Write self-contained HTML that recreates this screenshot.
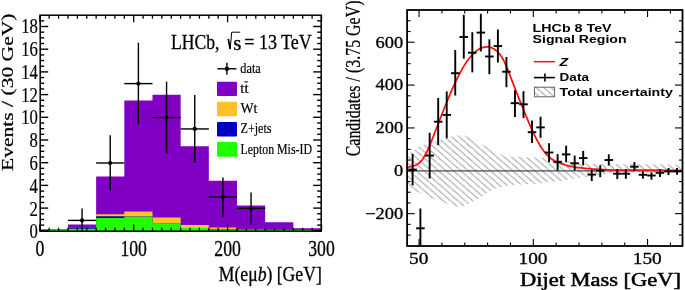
<!DOCTYPE html>
<html><head><meta charset="utf-8"><style>
html,body{margin:0;padding:0;background:#fff;}
body{width:685px;height:290px;overflow:hidden;}
svg{display:block;will-change:transform;}
</style></head><body>
<svg width="685" height="290" viewBox="0 0 685 290">
<rect width="685" height="290" fill="#fff"/>
<polygon points="39.80,231.20 39.80,229.60 67.97,229.60 67.97,224.50 96.14,224.50 96.14,176.60 124.31,176.60 124.31,100.50 152.48,100.50 152.48,94.70 180.65,94.70 180.65,146.20 208.82,146.20 208.82,180.80 236.99,180.80 236.99,205.50 265.16,205.50 265.16,222.20 293.33,222.20 293.33,228.20 321.50,228.20 321.50,231.20" fill="#8000c4"/>
<polygon points="39.80,231.20 39.80,229.60 67.97,229.60 67.97,227.70 96.14,227.70 96.14,214.30 124.31,214.30 124.31,211.50 152.48,211.50 152.48,217.50 180.65,217.50 180.65,225.00 208.82,225.00 208.82,227.50 236.99,227.50 236.99,229.30 265.16,229.30 265.16,229.70 293.33,229.70 293.33,229.90 321.50,229.90 321.50,231.20" fill="#ffc02a"/>
<polygon points="39.80,231.20 39.80,229.60 67.97,229.60 67.97,227.70 96.14,227.70 96.14,216.30 124.31,216.30 124.31,216.60 152.48,216.60 152.48,223.20 180.65,223.20 180.65,228.00 208.82,228.00 208.82,229.30 236.99,229.30 236.99,229.60 265.16,229.60 265.16,229.80 293.33,229.80 293.33,229.90 321.50,229.90 321.50,231.20" fill="#0000c0"/>
<polygon points="39.80,231.20 39.80,229.60 67.97,229.60 67.97,228.80 96.14,228.80 96.14,218.00 124.31,218.00 124.31,216.80 152.48,216.80 152.48,223.30 180.65,223.30 180.65,228.10 208.82,228.10 208.82,229.40 236.99,229.40 236.99,229.70 265.16,229.70 265.16,229.90 293.33,229.90 293.33,230.00 321.50,230.00 321.50,231.20" fill="#20ff00"/>
<line x1="40.20" y1="230.80" x2="48.20" y2="230.80" stroke="#000" stroke-width="1.4" stroke-linecap="butt"/>
<line x1="321.20" y1="230.80" x2="313.20" y2="230.80" stroke="#000" stroke-width="1.4" stroke-linecap="butt"/>
<line x1="40.20" y1="225.12" x2="44.20" y2="225.12" stroke="#000" stroke-width="1.4" stroke-linecap="butt"/>
<line x1="321.20" y1="225.12" x2="317.20" y2="225.12" stroke="#000" stroke-width="1.4" stroke-linecap="butt"/>
<line x1="40.20" y1="219.45" x2="44.20" y2="219.45" stroke="#000" stroke-width="1.4" stroke-linecap="butt"/>
<line x1="321.20" y1="219.45" x2="317.20" y2="219.45" stroke="#000" stroke-width="1.4" stroke-linecap="butt"/>
<line x1="40.20" y1="213.78" x2="44.20" y2="213.78" stroke="#000" stroke-width="1.4" stroke-linecap="butt"/>
<line x1="321.20" y1="213.78" x2="317.20" y2="213.78" stroke="#000" stroke-width="1.4" stroke-linecap="butt"/>
<line x1="40.20" y1="208.10" x2="48.20" y2="208.10" stroke="#000" stroke-width="1.4" stroke-linecap="butt"/>
<line x1="321.20" y1="208.10" x2="313.20" y2="208.10" stroke="#000" stroke-width="1.4" stroke-linecap="butt"/>
<line x1="40.20" y1="202.43" x2="44.20" y2="202.43" stroke="#000" stroke-width="1.4" stroke-linecap="butt"/>
<line x1="321.20" y1="202.43" x2="317.20" y2="202.43" stroke="#000" stroke-width="1.4" stroke-linecap="butt"/>
<line x1="40.20" y1="196.75" x2="44.20" y2="196.75" stroke="#000" stroke-width="1.4" stroke-linecap="butt"/>
<line x1="321.20" y1="196.75" x2="317.20" y2="196.75" stroke="#000" stroke-width="1.4" stroke-linecap="butt"/>
<line x1="40.20" y1="191.08" x2="44.20" y2="191.08" stroke="#000" stroke-width="1.4" stroke-linecap="butt"/>
<line x1="321.20" y1="191.08" x2="317.20" y2="191.08" stroke="#000" stroke-width="1.4" stroke-linecap="butt"/>
<line x1="40.20" y1="185.40" x2="48.20" y2="185.40" stroke="#000" stroke-width="1.4" stroke-linecap="butt"/>
<line x1="321.20" y1="185.40" x2="313.20" y2="185.40" stroke="#000" stroke-width="1.4" stroke-linecap="butt"/>
<line x1="40.20" y1="179.73" x2="44.20" y2="179.73" stroke="#000" stroke-width="1.4" stroke-linecap="butt"/>
<line x1="321.20" y1="179.73" x2="317.20" y2="179.73" stroke="#000" stroke-width="1.4" stroke-linecap="butt"/>
<line x1="40.20" y1="174.05" x2="44.20" y2="174.05" stroke="#000" stroke-width="1.4" stroke-linecap="butt"/>
<line x1="321.20" y1="174.05" x2="317.20" y2="174.05" stroke="#000" stroke-width="1.4" stroke-linecap="butt"/>
<line x1="40.20" y1="168.38" x2="44.20" y2="168.38" stroke="#000" stroke-width="1.4" stroke-linecap="butt"/>
<line x1="321.20" y1="168.38" x2="317.20" y2="168.38" stroke="#000" stroke-width="1.4" stroke-linecap="butt"/>
<line x1="40.20" y1="162.70" x2="48.20" y2="162.70" stroke="#000" stroke-width="1.4" stroke-linecap="butt"/>
<line x1="321.20" y1="162.70" x2="313.20" y2="162.70" stroke="#000" stroke-width="1.4" stroke-linecap="butt"/>
<line x1="40.20" y1="157.03" x2="44.20" y2="157.03" stroke="#000" stroke-width="1.4" stroke-linecap="butt"/>
<line x1="321.20" y1="157.03" x2="317.20" y2="157.03" stroke="#000" stroke-width="1.4" stroke-linecap="butt"/>
<line x1="40.20" y1="151.35" x2="44.20" y2="151.35" stroke="#000" stroke-width="1.4" stroke-linecap="butt"/>
<line x1="321.20" y1="151.35" x2="317.20" y2="151.35" stroke="#000" stroke-width="1.4" stroke-linecap="butt"/>
<line x1="40.20" y1="145.68" x2="44.20" y2="145.68" stroke="#000" stroke-width="1.4" stroke-linecap="butt"/>
<line x1="321.20" y1="145.68" x2="317.20" y2="145.68" stroke="#000" stroke-width="1.4" stroke-linecap="butt"/>
<line x1="40.20" y1="140.00" x2="48.20" y2="140.00" stroke="#000" stroke-width="1.4" stroke-linecap="butt"/>
<line x1="321.20" y1="140.00" x2="313.20" y2="140.00" stroke="#000" stroke-width="1.4" stroke-linecap="butt"/>
<line x1="40.20" y1="134.33" x2="44.20" y2="134.33" stroke="#000" stroke-width="1.4" stroke-linecap="butt"/>
<line x1="321.20" y1="134.33" x2="317.20" y2="134.33" stroke="#000" stroke-width="1.4" stroke-linecap="butt"/>
<line x1="40.20" y1="128.65" x2="44.20" y2="128.65" stroke="#000" stroke-width="1.4" stroke-linecap="butt"/>
<line x1="321.20" y1="128.65" x2="317.20" y2="128.65" stroke="#000" stroke-width="1.4" stroke-linecap="butt"/>
<line x1="40.20" y1="122.98" x2="44.20" y2="122.98" stroke="#000" stroke-width="1.4" stroke-linecap="butt"/>
<line x1="321.20" y1="122.98" x2="317.20" y2="122.98" stroke="#000" stroke-width="1.4" stroke-linecap="butt"/>
<line x1="40.20" y1="117.30" x2="48.20" y2="117.30" stroke="#000" stroke-width="1.4" stroke-linecap="butt"/>
<line x1="321.20" y1="117.30" x2="313.20" y2="117.30" stroke="#000" stroke-width="1.4" stroke-linecap="butt"/>
<line x1="40.20" y1="111.63" x2="44.20" y2="111.63" stroke="#000" stroke-width="1.4" stroke-linecap="butt"/>
<line x1="321.20" y1="111.63" x2="317.20" y2="111.63" stroke="#000" stroke-width="1.4" stroke-linecap="butt"/>
<line x1="40.20" y1="105.95" x2="44.20" y2="105.95" stroke="#000" stroke-width="1.4" stroke-linecap="butt"/>
<line x1="321.20" y1="105.95" x2="317.20" y2="105.95" stroke="#000" stroke-width="1.4" stroke-linecap="butt"/>
<line x1="40.20" y1="100.28" x2="44.20" y2="100.28" stroke="#000" stroke-width="1.4" stroke-linecap="butt"/>
<line x1="321.20" y1="100.28" x2="317.20" y2="100.28" stroke="#000" stroke-width="1.4" stroke-linecap="butt"/>
<line x1="40.20" y1="94.60" x2="48.20" y2="94.60" stroke="#000" stroke-width="1.4" stroke-linecap="butt"/>
<line x1="321.20" y1="94.60" x2="313.20" y2="94.60" stroke="#000" stroke-width="1.4" stroke-linecap="butt"/>
<line x1="40.20" y1="88.93" x2="44.20" y2="88.93" stroke="#000" stroke-width="1.4" stroke-linecap="butt"/>
<line x1="321.20" y1="88.93" x2="317.20" y2="88.93" stroke="#000" stroke-width="1.4" stroke-linecap="butt"/>
<line x1="40.20" y1="83.25" x2="44.20" y2="83.25" stroke="#000" stroke-width="1.4" stroke-linecap="butt"/>
<line x1="321.20" y1="83.25" x2="317.20" y2="83.25" stroke="#000" stroke-width="1.4" stroke-linecap="butt"/>
<line x1="40.20" y1="77.58" x2="44.20" y2="77.58" stroke="#000" stroke-width="1.4" stroke-linecap="butt"/>
<line x1="321.20" y1="77.58" x2="317.20" y2="77.58" stroke="#000" stroke-width="1.4" stroke-linecap="butt"/>
<line x1="40.20" y1="71.90" x2="48.20" y2="71.90" stroke="#000" stroke-width="1.4" stroke-linecap="butt"/>
<line x1="321.20" y1="71.90" x2="313.20" y2="71.90" stroke="#000" stroke-width="1.4" stroke-linecap="butt"/>
<line x1="40.20" y1="66.23" x2="44.20" y2="66.23" stroke="#000" stroke-width="1.4" stroke-linecap="butt"/>
<line x1="321.20" y1="66.23" x2="317.20" y2="66.23" stroke="#000" stroke-width="1.4" stroke-linecap="butt"/>
<line x1="40.20" y1="60.55" x2="44.20" y2="60.55" stroke="#000" stroke-width="1.4" stroke-linecap="butt"/>
<line x1="321.20" y1="60.55" x2="317.20" y2="60.55" stroke="#000" stroke-width="1.4" stroke-linecap="butt"/>
<line x1="40.20" y1="54.88" x2="44.20" y2="54.88" stroke="#000" stroke-width="1.4" stroke-linecap="butt"/>
<line x1="321.20" y1="54.88" x2="317.20" y2="54.88" stroke="#000" stroke-width="1.4" stroke-linecap="butt"/>
<line x1="40.20" y1="49.20" x2="48.20" y2="49.20" stroke="#000" stroke-width="1.4" stroke-linecap="butt"/>
<line x1="321.20" y1="49.20" x2="313.20" y2="49.20" stroke="#000" stroke-width="1.4" stroke-linecap="butt"/>
<line x1="40.20" y1="43.53" x2="44.20" y2="43.53" stroke="#000" stroke-width="1.4" stroke-linecap="butt"/>
<line x1="321.20" y1="43.53" x2="317.20" y2="43.53" stroke="#000" stroke-width="1.4" stroke-linecap="butt"/>
<line x1="40.20" y1="37.85" x2="44.20" y2="37.85" stroke="#000" stroke-width="1.4" stroke-linecap="butt"/>
<line x1="321.20" y1="37.85" x2="317.20" y2="37.85" stroke="#000" stroke-width="1.4" stroke-linecap="butt"/>
<line x1="40.20" y1="32.18" x2="44.20" y2="32.18" stroke="#000" stroke-width="1.4" stroke-linecap="butt"/>
<line x1="321.20" y1="32.18" x2="317.20" y2="32.18" stroke="#000" stroke-width="1.4" stroke-linecap="butt"/>
<line x1="40.20" y1="26.50" x2="48.20" y2="26.50" stroke="#000" stroke-width="1.4" stroke-linecap="butt"/>
<line x1="321.20" y1="26.50" x2="313.20" y2="26.50" stroke="#000" stroke-width="1.4" stroke-linecap="butt"/>
<line x1="40.20" y1="20.83" x2="44.20" y2="20.83" stroke="#000" stroke-width="1.4" stroke-linecap="butt"/>
<line x1="321.20" y1="20.83" x2="317.20" y2="20.83" stroke="#000" stroke-width="1.4" stroke-linecap="butt"/>
<line x1="39.80" y1="231.20" x2="39.80" y2="224.20" stroke="#000" stroke-width="1.3" stroke-linecap="butt"/>
<line x1="39.80" y1="15.20" x2="39.80" y2="22.20" stroke="#000" stroke-width="1.3" stroke-linecap="butt"/>
<line x1="49.19" y1="231.20" x2="49.19" y2="227.70" stroke="#000" stroke-width="1.3" stroke-linecap="butt"/>
<line x1="49.19" y1="15.20" x2="49.19" y2="18.70" stroke="#000" stroke-width="1.3" stroke-linecap="butt"/>
<line x1="58.58" y1="231.20" x2="58.58" y2="227.70" stroke="#000" stroke-width="1.3" stroke-linecap="butt"/>
<line x1="58.58" y1="15.20" x2="58.58" y2="18.70" stroke="#000" stroke-width="1.3" stroke-linecap="butt"/>
<line x1="67.97" y1="231.20" x2="67.97" y2="227.70" stroke="#000" stroke-width="1.3" stroke-linecap="butt"/>
<line x1="67.97" y1="15.20" x2="67.97" y2="18.70" stroke="#000" stroke-width="1.3" stroke-linecap="butt"/>
<line x1="77.36" y1="231.20" x2="77.36" y2="227.70" stroke="#000" stroke-width="1.3" stroke-linecap="butt"/>
<line x1="77.36" y1="15.20" x2="77.36" y2="18.70" stroke="#000" stroke-width="1.3" stroke-linecap="butt"/>
<line x1="86.75" y1="231.20" x2="86.75" y2="227.70" stroke="#000" stroke-width="1.3" stroke-linecap="butt"/>
<line x1="86.75" y1="15.20" x2="86.75" y2="18.70" stroke="#000" stroke-width="1.3" stroke-linecap="butt"/>
<line x1="96.14" y1="231.20" x2="96.14" y2="227.70" stroke="#000" stroke-width="1.3" stroke-linecap="butt"/>
<line x1="96.14" y1="15.20" x2="96.14" y2="18.70" stroke="#000" stroke-width="1.3" stroke-linecap="butt"/>
<line x1="105.53" y1="231.20" x2="105.53" y2="227.70" stroke="#000" stroke-width="1.3" stroke-linecap="butt"/>
<line x1="105.53" y1="15.20" x2="105.53" y2="18.70" stroke="#000" stroke-width="1.3" stroke-linecap="butt"/>
<line x1="114.92" y1="231.20" x2="114.92" y2="227.70" stroke="#000" stroke-width="1.3" stroke-linecap="butt"/>
<line x1="114.92" y1="15.20" x2="114.92" y2="18.70" stroke="#000" stroke-width="1.3" stroke-linecap="butt"/>
<line x1="124.31" y1="231.20" x2="124.31" y2="227.70" stroke="#000" stroke-width="1.3" stroke-linecap="butt"/>
<line x1="124.31" y1="15.20" x2="124.31" y2="18.70" stroke="#000" stroke-width="1.3" stroke-linecap="butt"/>
<line x1="133.70" y1="231.20" x2="133.70" y2="224.20" stroke="#000" stroke-width="1.3" stroke-linecap="butt"/>
<line x1="133.70" y1="15.20" x2="133.70" y2="22.20" stroke="#000" stroke-width="1.3" stroke-linecap="butt"/>
<line x1="143.09" y1="231.20" x2="143.09" y2="227.70" stroke="#000" stroke-width="1.3" stroke-linecap="butt"/>
<line x1="143.09" y1="15.20" x2="143.09" y2="18.70" stroke="#000" stroke-width="1.3" stroke-linecap="butt"/>
<line x1="152.48" y1="231.20" x2="152.48" y2="227.70" stroke="#000" stroke-width="1.3" stroke-linecap="butt"/>
<line x1="152.48" y1="15.20" x2="152.48" y2="18.70" stroke="#000" stroke-width="1.3" stroke-linecap="butt"/>
<line x1="161.87" y1="231.20" x2="161.87" y2="227.70" stroke="#000" stroke-width="1.3" stroke-linecap="butt"/>
<line x1="161.87" y1="15.20" x2="161.87" y2="18.70" stroke="#000" stroke-width="1.3" stroke-linecap="butt"/>
<line x1="171.26" y1="231.20" x2="171.26" y2="227.70" stroke="#000" stroke-width="1.3" stroke-linecap="butt"/>
<line x1="171.26" y1="15.20" x2="171.26" y2="18.70" stroke="#000" stroke-width="1.3" stroke-linecap="butt"/>
<line x1="180.65" y1="231.20" x2="180.65" y2="227.70" stroke="#000" stroke-width="1.3" stroke-linecap="butt"/>
<line x1="180.65" y1="15.20" x2="180.65" y2="18.70" stroke="#000" stroke-width="1.3" stroke-linecap="butt"/>
<line x1="190.04" y1="231.20" x2="190.04" y2="227.70" stroke="#000" stroke-width="1.3" stroke-linecap="butt"/>
<line x1="190.04" y1="15.20" x2="190.04" y2="18.70" stroke="#000" stroke-width="1.3" stroke-linecap="butt"/>
<line x1="199.43" y1="231.20" x2="199.43" y2="227.70" stroke="#000" stroke-width="1.3" stroke-linecap="butt"/>
<line x1="199.43" y1="15.20" x2="199.43" y2="18.70" stroke="#000" stroke-width="1.3" stroke-linecap="butt"/>
<line x1="208.82" y1="231.20" x2="208.82" y2="227.70" stroke="#000" stroke-width="1.3" stroke-linecap="butt"/>
<line x1="208.82" y1="15.20" x2="208.82" y2="18.70" stroke="#000" stroke-width="1.3" stroke-linecap="butt"/>
<line x1="218.21" y1="231.20" x2="218.21" y2="227.70" stroke="#000" stroke-width="1.3" stroke-linecap="butt"/>
<line x1="218.21" y1="15.20" x2="218.21" y2="18.70" stroke="#000" stroke-width="1.3" stroke-linecap="butt"/>
<line x1="227.60" y1="231.20" x2="227.60" y2="224.20" stroke="#000" stroke-width="1.3" stroke-linecap="butt"/>
<line x1="227.60" y1="15.20" x2="227.60" y2="22.20" stroke="#000" stroke-width="1.3" stroke-linecap="butt"/>
<line x1="236.99" y1="231.20" x2="236.99" y2="227.70" stroke="#000" stroke-width="1.3" stroke-linecap="butt"/>
<line x1="236.99" y1="15.20" x2="236.99" y2="18.70" stroke="#000" stroke-width="1.3" stroke-linecap="butt"/>
<line x1="246.38" y1="231.20" x2="246.38" y2="227.70" stroke="#000" stroke-width="1.3" stroke-linecap="butt"/>
<line x1="246.38" y1="15.20" x2="246.38" y2="18.70" stroke="#000" stroke-width="1.3" stroke-linecap="butt"/>
<line x1="255.77" y1="231.20" x2="255.77" y2="227.70" stroke="#000" stroke-width="1.3" stroke-linecap="butt"/>
<line x1="255.77" y1="15.20" x2="255.77" y2="18.70" stroke="#000" stroke-width="1.3" stroke-linecap="butt"/>
<line x1="265.16" y1="231.20" x2="265.16" y2="227.70" stroke="#000" stroke-width="1.3" stroke-linecap="butt"/>
<line x1="265.16" y1="15.20" x2="265.16" y2="18.70" stroke="#000" stroke-width="1.3" stroke-linecap="butt"/>
<line x1="274.55" y1="231.20" x2="274.55" y2="227.70" stroke="#000" stroke-width="1.3" stroke-linecap="butt"/>
<line x1="274.55" y1="15.20" x2="274.55" y2="18.70" stroke="#000" stroke-width="1.3" stroke-linecap="butt"/>
<line x1="283.94" y1="231.20" x2="283.94" y2="227.70" stroke="#000" stroke-width="1.3" stroke-linecap="butt"/>
<line x1="283.94" y1="15.20" x2="283.94" y2="18.70" stroke="#000" stroke-width="1.3" stroke-linecap="butt"/>
<line x1="293.33" y1="231.20" x2="293.33" y2="227.70" stroke="#000" stroke-width="1.3" stroke-linecap="butt"/>
<line x1="293.33" y1="15.20" x2="293.33" y2="18.70" stroke="#000" stroke-width="1.3" stroke-linecap="butt"/>
<line x1="302.72" y1="231.20" x2="302.72" y2="227.70" stroke="#000" stroke-width="1.3" stroke-linecap="butt"/>
<line x1="302.72" y1="15.20" x2="302.72" y2="18.70" stroke="#000" stroke-width="1.3" stroke-linecap="butt"/>
<line x1="312.11" y1="231.20" x2="312.11" y2="227.70" stroke="#000" stroke-width="1.3" stroke-linecap="butt"/>
<line x1="312.11" y1="15.20" x2="312.11" y2="18.70" stroke="#000" stroke-width="1.3" stroke-linecap="butt"/>
<line x1="321.50" y1="231.20" x2="321.50" y2="224.20" stroke="#000" stroke-width="1.3" stroke-linecap="butt"/>
<line x1="321.50" y1="15.20" x2="321.50" y2="22.20" stroke="#000" stroke-width="1.3" stroke-linecap="butt"/>
<rect x="40.2" y="15.2" width="281.0" height="216.0" fill="none" stroke="#000" stroke-width="1.5"/>
<line x1="67.97" y1="220.40" x2="96.14" y2="220.40" stroke="#000" stroke-width="1.4" stroke-linecap="butt"/>
<line x1="82.05" y1="208.60" x2="82.05" y2="231.20" stroke="#000" stroke-width="1.4" stroke-linecap="butt"/>
<circle cx="82.05" cy="220.40" r="2.1" fill="#000"/>
<line x1="96.14" y1="163.00" x2="124.31" y2="163.00" stroke="#000" stroke-width="1.4" stroke-linecap="butt"/>
<line x1="110.22" y1="135.20" x2="110.22" y2="190.80" stroke="#000" stroke-width="1.4" stroke-linecap="butt"/>
<circle cx="110.22" cy="163.00" r="2.1" fill="#000"/>
<line x1="124.31" y1="83.60" x2="152.48" y2="83.60" stroke="#000" stroke-width="1.4" stroke-linecap="butt"/>
<line x1="138.39" y1="42.70" x2="138.39" y2="124.40" stroke="#000" stroke-width="1.4" stroke-linecap="butt"/>
<circle cx="138.39" cy="83.60" r="2.1" fill="#000"/>
<line x1="152.48" y1="117.60" x2="180.65" y2="117.60" stroke="#000" stroke-width="1.4" stroke-linecap="butt"/>
<line x1="166.56" y1="81.70" x2="166.56" y2="153.50" stroke="#000" stroke-width="1.4" stroke-linecap="butt"/>
<circle cx="166.56" cy="117.60" r="2.1" fill="#000"/>
<line x1="180.65" y1="128.95" x2="208.82" y2="128.95" stroke="#000" stroke-width="1.4" stroke-linecap="butt"/>
<line x1="194.73" y1="94.90" x2="194.73" y2="163.00" stroke="#000" stroke-width="1.4" stroke-linecap="butt"/>
<circle cx="194.73" cy="128.95" r="2.1" fill="#000"/>
<line x1="208.82" y1="197.05" x2="236.99" y2="197.05" stroke="#000" stroke-width="1.4" stroke-linecap="butt"/>
<line x1="222.91" y1="177.40" x2="222.91" y2="216.70" stroke="#000" stroke-width="1.4" stroke-linecap="butt"/>
<circle cx="222.91" cy="197.05" r="2.1" fill="#000"/>
<line x1="236.99" y1="208.40" x2="265.16" y2="208.40" stroke="#000" stroke-width="1.4" stroke-linecap="butt"/>
<line x1="251.07" y1="192.40" x2="251.07" y2="224.40" stroke="#000" stroke-width="1.4" stroke-linecap="butt"/>
<circle cx="251.07" cy="208.40" r="2.1" fill="#000"/>
<line x1="217.40" y1="68.80" x2="236.40" y2="68.80" stroke="#000" stroke-width="1.4" stroke-linecap="butt"/>
<line x1="226.90" y1="62.80" x2="226.90" y2="74.80" stroke="#000" stroke-width="1.4" stroke-linecap="butt"/>
<circle cx="226.9" cy="68.8" r="2.2" fill="#000"/>
<rect x="217" y="81.7" width="20" height="14.3" rx="1" fill="#8000c4"/>
<rect x="217" y="101.8" width="20" height="14.5" rx="1" fill="#ffc02a"/>
<rect x="217" y="122.0" width="20" height="14.5" rx="1" fill="#0000c0"/>
<rect x="217" y="142.1" width="20" height="14.6" rx="1" fill="#20ff00"/>
<text transform="translate(240.30,72.80)" font-family='"Liberation Serif", serif' font-size="14.6" text-anchor="start" font-weight="normal" font-style="normal" fill="#000" textLength="20.50" lengthAdjust="spacingAndGlyphs" stroke="#000" stroke-width="0.2">data</text>
<text transform="translate(240.30,93.30)" font-family='"Liberation Serif", serif' font-size="14.6" text-anchor="start" font-weight="normal" font-style="normal" fill="#000" textLength="8.30" lengthAdjust="spacingAndGlyphs" stroke="#000" stroke-width="0.2">tt</text>
<line x1="244.40" y1="81.90" x2="248.00" y2="81.90" stroke="#000" stroke-width="1.0" stroke-linecap="butt"/>
<text transform="translate(240.50,113.10)" font-family='"Liberation Serif", serif' font-size="14.6" text-anchor="start" font-weight="normal" font-style="normal" fill="#000" textLength="17.00" lengthAdjust="spacingAndGlyphs" stroke="#000" stroke-width="0.2">Wt</text>
<text transform="translate(240.50,133.30)" font-family='"Liberation Serif", serif' font-size="14.6" text-anchor="start" font-weight="normal" font-style="normal" fill="#000" textLength="31.00" lengthAdjust="spacingAndGlyphs" stroke="#000" stroke-width="0.2">Z+jets</text>
<text transform="translate(240.50,153.70)" font-family='"Liberation Serif", serif' font-size="14.6" text-anchor="start" font-weight="normal" font-style="normal" fill="#000" textLength="71.50" lengthAdjust="spacingAndGlyphs" stroke="#000" stroke-width="0.2">Lepton Mis-ID</text>
<text transform="translate(171.00,48.90)" font-family='"Liberation Serif", serif' font-size="21.1" text-anchor="start" font-weight="normal" font-style="normal" fill="#000" textLength="48.50" lengthAdjust="spacingAndGlyphs" stroke="#000" stroke-width="0.3">LHCb,</text>
<path d="M228.3,38.8 L230.2,49" stroke="#000" stroke-width="1.7" fill="none"/>
<path d="M230.2,49 L231.7,32.2 L240.2,32.2" stroke="#000" stroke-width="1.0" fill="none"/>
<text transform="translate(233.30,49.70)" font-family='"Liberation Serif", serif' font-size="21.1" text-anchor="start" font-weight="normal" font-style="normal" fill="#000" stroke="#000" stroke-width="0.3">s</text>
<text transform="translate(244.30,48.90)" font-family='"Liberation Serif", serif' font-size="21.1" text-anchor="start" font-weight="normal" font-style="normal" fill="#000" textLength="67.50" lengthAdjust="spacingAndGlyphs" stroke="#000" stroke-width="0.3">= 13 TeV</text>
<text transform="translate(37.90,238.30) scale(0.7600,1.0000)" font-family='"Liberation Serif", serif' font-size="22" text-anchor="end" font-weight="normal" font-style="normal" fill="#000" stroke="#000" stroke-width="0.2">0</text>
<text transform="translate(37.90,215.51) scale(0.7600,1.0000)" font-family='"Liberation Serif", serif' font-size="22" text-anchor="end" font-weight="normal" font-style="normal" fill="#000" stroke="#000" stroke-width="0.2">2</text>
<text transform="translate(37.90,192.72) scale(0.7600,1.0000)" font-family='"Liberation Serif", serif' font-size="22" text-anchor="end" font-weight="normal" font-style="normal" fill="#000" stroke="#000" stroke-width="0.2">4</text>
<text transform="translate(37.90,169.94) scale(0.7600,1.0000)" font-family='"Liberation Serif", serif' font-size="22" text-anchor="end" font-weight="normal" font-style="normal" fill="#000" stroke="#000" stroke-width="0.2">6</text>
<text transform="translate(37.90,147.15) scale(0.7600,1.0000)" font-family='"Liberation Serif", serif' font-size="22" text-anchor="end" font-weight="normal" font-style="normal" fill="#000" stroke="#000" stroke-width="0.2">8</text>
<text transform="translate(37.90,124.36) scale(0.7600,1.0000)" font-family='"Liberation Serif", serif' font-size="22" text-anchor="end" font-weight="normal" font-style="normal" fill="#000" stroke="#000" stroke-width="0.2">10</text>
<text transform="translate(37.90,101.57) scale(0.7600,1.0000)" font-family='"Liberation Serif", serif' font-size="22" text-anchor="end" font-weight="normal" font-style="normal" fill="#000" stroke="#000" stroke-width="0.2">12</text>
<text transform="translate(37.90,78.78) scale(0.7600,1.0000)" font-family='"Liberation Serif", serif' font-size="22" text-anchor="end" font-weight="normal" font-style="normal" fill="#000" stroke="#000" stroke-width="0.2">14</text>
<text transform="translate(37.90,56.00) scale(0.7600,1.0000)" font-family='"Liberation Serif", serif' font-size="22" text-anchor="end" font-weight="normal" font-style="normal" fill="#000" stroke="#000" stroke-width="0.2">16</text>
<text transform="translate(37.90,33.21) scale(0.7600,1.0000)" font-family='"Liberation Serif", serif' font-size="22" text-anchor="end" font-weight="normal" font-style="normal" fill="#000" stroke="#000" stroke-width="0.2">18</text>
<text transform="translate(39.80,255.80) scale(0.7700,1.0000)" font-family='"Liberation Serif", serif' font-size="23" text-anchor="middle" font-weight="normal" font-style="normal" fill="#000" stroke="#000" stroke-width="0.3">0</text>
<text transform="translate(133.70,255.80) scale(0.7700,1.0000)" font-family='"Liberation Serif", serif' font-size="23" text-anchor="middle" font-weight="normal" font-style="normal" fill="#000" stroke="#000" stroke-width="0.3">100</text>
<text transform="translate(227.60,255.80) scale(0.7700,1.0000)" font-family='"Liberation Serif", serif' font-size="23" text-anchor="middle" font-weight="normal" font-style="normal" fill="#000" stroke="#000" stroke-width="0.3">200</text>
<text transform="translate(321.50,255.80) scale(0.7700,1.0000)" font-family='"Liberation Serif", serif' font-size="23" text-anchor="middle" font-weight="normal" font-style="normal" fill="#000" stroke="#000" stroke-width="0.3">300</text>
<text transform="translate(218.80,281.00)" font-family='"Liberation Serif", serif' font-size="20.7" text-anchor="start" font-weight="normal" font-style="normal" fill="#000" textLength="103.00" lengthAdjust="spacingAndGlyphs" stroke="#000" stroke-width="0.3">M(eμ<tspan font-style="italic">b</tspan>) [GeV]</text>
<text transform="translate(12.60,171.00) rotate(-90) scale(1.0000,0.8200)" font-family='"Liberation Serif", serif' font-size="19.5" text-anchor="start" font-weight="normal" font-style="normal" fill="#000" textLength="157.50" lengthAdjust="spacingAndGlyphs" stroke="#000" stroke-width="0.25">Events / (30 GeV)</text>
<defs><pattern id="hatch" patternUnits="userSpaceOnUse" x="0" y="0" width="7.4" height="6.5"><line x1="0" y1="0" x2="7.4" y2="6.5" stroke="#a0a0a0" stroke-width="1.0"/><line x1="-7.4" y1="-6.5" x2="0" y2="0" stroke="#a0a0a0" stroke-width="1.0"/><line x1="7.4" y1="6.5" x2="14.8" y2="13.0" stroke="#a0a0a0" stroke-width="1.0"/></pattern></defs>
<polygon points="407,155 413,151 418,147.6 422.5,145 432,142.5 441,140 450,136.7 457,135.5 463,135 470,137.5 477,142 490,148.5 501,154.6 511,156.5 545,158 560,160 575,162 590,163.8 610,164.0 682,164.5 682,172.5 610,173 595,176.5 590,177.3 581,177.5 574.5,178.3 560.7,181 546,182.5 538.5,184 518,184.5 504,186.2 498.4,187.6 493.8,189.7 488.6,191.7 484.5,194.8 480.8,197.4 476.7,199.5 472.6,202 468,204.1 462,206.4 455,206.4 450,205 440,201 428.6,197.2 420,193 410,188.4 407,187" fill="url(#hatch)"/>
<line x1="407.10" y1="170.80" x2="682.50" y2="170.80" stroke="#4a4a4a" stroke-width="1.3" stroke-linecap="butt"/>
<path d="M406.50,168.16 C406.83,168.02 407.83,167.56 408.50,167.32 C409.17,167.08 409.83,166.89 410.50,166.70 C411.17,166.51 411.83,166.36 412.50,166.17 C413.17,165.98 413.83,165.80 414.50,165.56 C415.17,165.32 415.83,165.07 416.50,164.73 C417.17,164.39 417.83,164.02 418.50,163.54 C419.17,163.06 419.83,162.51 420.50,161.82 C421.17,161.13 421.83,160.34 422.50,159.42 C423.17,158.50 423.83,157.44 424.50,156.28 C425.17,155.12 425.83,153.84 426.50,152.49 C427.17,151.14 427.83,149.67 428.50,148.17 C429.17,146.66 429.83,145.08 430.50,143.46 C431.17,141.84 431.83,140.16 432.50,138.48 C433.17,136.79 433.83,135.06 434.50,133.35 C435.17,131.64 435.83,129.92 436.50,128.20 C437.17,126.48 437.83,124.75 438.50,123.03 C439.17,121.31 439.83,119.60 440.50,117.89 C441.17,116.18 441.83,114.47 442.50,112.78 C443.17,111.09 443.83,109.41 444.50,107.74 C445.17,106.07 445.83,104.41 446.50,102.77 C447.17,101.13 447.83,99.51 448.50,97.91 C449.17,96.31 449.83,94.73 450.50,93.17 C451.17,91.61 451.83,90.08 452.50,88.57 C453.17,87.06 453.83,85.58 454.50,84.13 C455.17,82.68 455.83,81.27 456.50,79.89 C457.17,78.51 457.83,77.15 458.50,75.84 C459.17,74.53 459.83,73.25 460.50,72.02 C461.17,70.79 461.83,69.60 462.50,68.45 C463.17,67.30 463.83,66.20 464.50,65.14 C465.17,64.08 465.83,63.06 466.50,62.08 C467.17,61.10 467.83,60.17 468.50,59.28 C469.17,58.39 469.83,57.55 470.50,56.76 C471.17,55.96 471.83,55.21 472.50,54.51 C473.17,53.81 473.83,53.15 474.50,52.54 C475.17,51.93 475.83,51.37 476.50,50.85 C477.17,50.34 477.83,49.87 478.50,49.45 C479.17,49.03 479.83,48.67 480.50,48.35 C481.17,48.03 481.83,47.77 482.50,47.55 C483.17,47.33 483.83,47.16 484.50,47.05 C485.17,46.93 485.83,46.87 486.50,46.86 C487.17,46.85 487.83,46.90 488.50,46.99 C489.17,47.09 489.83,47.23 490.50,47.43 C491.17,47.63 491.83,47.90 492.50,48.21 C493.17,48.52 493.83,48.88 494.50,49.31 C495.17,49.74 495.83,50.23 496.50,50.81 C497.17,51.39 497.83,52.02 498.50,52.76 C499.17,53.50 499.83,54.31 500.50,55.24 C501.17,56.17 501.83,57.17 502.50,58.31 C503.17,59.45 503.83,60.69 504.50,62.06 C505.17,63.43 505.83,64.94 506.50,66.52 C507.17,68.10 507.83,69.82 508.50,71.52 C509.17,73.22 509.83,74.99 510.50,76.72 C511.17,78.45 511.83,80.19 512.50,81.92 C513.17,83.65 513.83,85.38 514.50,87.10 C515.17,88.82 515.83,90.54 516.50,92.25 C517.17,93.96 517.83,95.66 518.50,97.36 C519.17,99.06 519.83,100.75 520.50,102.42 C521.17,104.09 521.83,105.76 522.50,107.41 C523.17,109.06 523.83,110.70 524.50,112.32 C525.17,113.94 525.83,115.56 526.50,117.15 C527.17,118.74 527.83,120.32 528.50,121.87 C529.17,123.42 529.83,124.95 530.50,126.45 C531.17,127.95 531.83,129.43 532.50,130.87 C533.17,132.31 533.83,133.72 534.50,135.08 C535.17,136.45 535.83,137.78 536.50,139.06 C537.17,140.34 537.83,141.60 538.50,142.79 C539.17,143.98 539.83,145.12 540.50,146.21 C541.17,147.30 541.83,148.34 542.50,149.31 C543.17,150.28 543.83,151.21 544.50,152.06 C545.17,152.91 545.83,153.70 546.50,154.43 C547.17,155.16 547.83,155.82 548.50,156.44 C549.17,157.06 549.83,157.62 550.50,158.14 C551.17,158.66 551.83,159.14 552.50,159.58 C553.17,160.02 553.83,160.41 554.50,160.78 C555.17,161.15 555.83,161.49 556.50,161.80 C557.17,162.12 557.83,162.40 558.50,162.67 C559.17,162.94 559.83,163.19 560.50,163.44 C561.17,163.69 561.83,163.92 562.50,164.14 C563.17,164.36 563.83,164.56 564.50,164.76 C565.17,164.96 565.83,165.14 566.50,165.32 C567.17,165.50 567.83,165.66 568.50,165.82 C569.17,165.98 569.83,166.13 570.50,166.27 C571.17,166.41 571.83,166.54 572.50,166.67 C573.17,166.79 573.83,166.91 574.50,167.02 C575.17,167.13 575.83,167.24 576.50,167.34 C577.17,167.44 577.83,167.53 578.50,167.62 C579.17,167.71 579.83,167.79 580.50,167.87 C581.17,167.95 581.83,168.02 582.50,168.09 C583.17,168.16 583.83,168.23 584.50,168.30 C585.17,168.37 585.83,168.43 586.50,168.49 C587.17,168.55 587.83,168.61 588.50,168.67 C589.17,168.73 589.83,168.79 590.50,168.84 C591.17,168.89 591.83,168.94 592.50,168.99 C593.17,169.04 593.83,169.09 594.50,169.13 C595.17,169.17 595.83,169.22 596.50,169.26 C597.17,169.30 597.83,169.34 598.50,169.38 C599.17,169.42 599.83,169.46 600.50,169.49 C601.17,169.53 601.83,169.56 602.50,169.59 C603.17,169.62 603.83,169.65 604.50,169.68 C605.17,169.71 605.83,169.73 606.50,169.76 C607.17,169.79 607.83,169.82 608.50,169.84 C609.17,169.86 609.83,169.88 610.50,169.90 C611.17,169.92 611.83,169.94 612.50,169.96 C613.17,169.98 613.83,170.00 614.50,170.01 C615.17,170.02 615.83,170.04 616.50,170.05 C617.17,170.06 617.83,170.08 618.50,170.09 C619.17,170.10 619.83,170.11 620.50,170.12 C621.17,170.13 621.83,170.13 622.50,170.14 C623.17,170.15 623.83,170.15 624.50,170.16 C625.17,170.17 625.83,170.18 626.50,170.18 C627.17,170.19 627.83,170.19 628.50,170.19 C629.17,170.19 629.83,170.20 630.50,170.20 C631.17,170.20 631.83,170.21 632.50,170.21 C633.17,170.21 633.83,170.21 634.50,170.21 C635.17,170.21 635.83,170.21 636.50,170.21 C637.17,170.21 637.83,170.21 638.50,170.21 C639.17,170.21 639.83,170.21 640.50,170.21 C641.17,170.21 641.83,170.21 642.50,170.21 C643.17,170.21 643.83,170.20 644.50,170.20 C645.17,170.20 645.83,170.20 646.50,170.20 C647.17,170.20 647.83,170.20 648.50,170.20 C649.17,170.20 649.83,170.20 650.50,170.20 C651.17,170.20 651.83,170.20 652.50,170.20 C653.17,170.20 653.83,170.20 654.50,170.20 C655.17,170.20 655.83,170.21 656.50,170.21 C657.17,170.21 657.83,170.21 658.50,170.21 C659.17,170.21 659.83,170.22 660.50,170.22 C661.17,170.22 661.83,170.23 662.50,170.24 C663.17,170.25 663.83,170.25 664.50,170.26 C665.17,170.27 665.83,170.27 666.50,170.28 C667.17,170.29 667.83,170.30 668.50,170.31 C669.17,170.32 669.83,170.33 670.50,170.34 C671.17,170.35 671.83,170.37 672.50,170.38 C673.17,170.39 673.83,170.41 674.50,170.43 C675.17,170.45 675.83,170.46 676.50,170.48 C677.17,170.50 677.83,170.52 678.50,170.54 C679.17,170.56 679.83,170.59 680.50,170.61 C681.17,170.64 682.17,170.68 682.50,170.69" fill="none" stroke="#ff1010" stroke-width="1.75" stroke-linejoin="round"/>
<line x1="408.32" y1="169.60" x2="416.88" y2="169.60" stroke="#000" stroke-width="1.9" stroke-linecap="butt"/>
<line x1="412.60" y1="153.90" x2="412.60" y2="185.30" stroke="#000" stroke-width="1.9" stroke-linecap="butt"/>
<line x1="416.12" y1="228.30" x2="424.68" y2="228.30" stroke="#000" stroke-width="1.9" stroke-linecap="butt"/>
<line x1="420.40" y1="208.50" x2="420.40" y2="246.00" stroke="#000" stroke-width="1.9" stroke-linecap="butt"/>
<line x1="425.38" y1="155.60" x2="433.94" y2="155.60" stroke="#000" stroke-width="1.9" stroke-linecap="butt"/>
<line x1="429.66" y1="132.70" x2="429.66" y2="178.50" stroke="#000" stroke-width="1.9" stroke-linecap="butt"/>
<line x1="433.91" y1="121.70" x2="442.47" y2="121.70" stroke="#000" stroke-width="1.9" stroke-linecap="butt"/>
<line x1="438.19" y1="98.00" x2="438.19" y2="145.10" stroke="#000" stroke-width="1.9" stroke-linecap="butt"/>
<line x1="442.44" y1="114.90" x2="451.00" y2="114.90" stroke="#000" stroke-width="1.9" stroke-linecap="butt"/>
<line x1="446.72" y1="91.40" x2="446.72" y2="138.30" stroke="#000" stroke-width="1.9" stroke-linecap="butt"/>
<line x1="450.97" y1="73.20" x2="459.53" y2="73.20" stroke="#000" stroke-width="1.9" stroke-linecap="butt"/>
<line x1="455.25" y1="50.00" x2="455.25" y2="95.50" stroke="#000" stroke-width="1.9" stroke-linecap="butt"/>
<line x1="459.50" y1="37.00" x2="468.06" y2="37.00" stroke="#000" stroke-width="1.9" stroke-linecap="butt"/>
<line x1="463.78" y1="14.80" x2="463.78" y2="58.60" stroke="#000" stroke-width="1.9" stroke-linecap="butt"/>
<line x1="468.03" y1="52.70" x2="476.59" y2="52.70" stroke="#000" stroke-width="1.9" stroke-linecap="butt"/>
<line x1="472.31" y1="32.20" x2="472.31" y2="72.40" stroke="#000" stroke-width="1.9" stroke-linecap="butt"/>
<line x1="476.56" y1="32.60" x2="485.12" y2="32.60" stroke="#000" stroke-width="1.9" stroke-linecap="butt"/>
<line x1="480.84" y1="13.80" x2="480.84" y2="51.50" stroke="#000" stroke-width="1.9" stroke-linecap="butt"/>
<line x1="485.09" y1="56.50" x2="493.65" y2="56.50" stroke="#000" stroke-width="1.9" stroke-linecap="butt"/>
<line x1="489.37" y1="39.30" x2="489.37" y2="74.20" stroke="#000" stroke-width="1.9" stroke-linecap="butt"/>
<line x1="493.62" y1="46.10" x2="502.18" y2="46.10" stroke="#000" stroke-width="1.9" stroke-linecap="butt"/>
<line x1="497.90" y1="29.50" x2="497.90" y2="62.50" stroke="#000" stroke-width="1.9" stroke-linecap="butt"/>
<line x1="502.15" y1="71.70" x2="510.71" y2="71.70" stroke="#000" stroke-width="1.9" stroke-linecap="butt"/>
<line x1="506.43" y1="57.00" x2="506.43" y2="87.20" stroke="#000" stroke-width="1.9" stroke-linecap="butt"/>
<line x1="510.68" y1="103.20" x2="519.24" y2="103.20" stroke="#000" stroke-width="1.9" stroke-linecap="butt"/>
<line x1="514.96" y1="90.20" x2="514.96" y2="117.10" stroke="#000" stroke-width="1.9" stroke-linecap="butt"/>
<line x1="519.21" y1="104.30" x2="527.77" y2="104.30" stroke="#000" stroke-width="1.9" stroke-linecap="butt"/>
<line x1="523.49" y1="91.20" x2="523.49" y2="118.10" stroke="#000" stroke-width="1.9" stroke-linecap="butt"/>
<line x1="527.74" y1="132.20" x2="536.30" y2="132.20" stroke="#000" stroke-width="1.9" stroke-linecap="butt"/>
<line x1="532.02" y1="120.60" x2="532.02" y2="143.00" stroke="#000" stroke-width="1.9" stroke-linecap="butt"/>
<line x1="536.27" y1="127.40" x2="544.83" y2="127.40" stroke="#000" stroke-width="1.9" stroke-linecap="butt"/>
<line x1="540.55" y1="116.70" x2="540.55" y2="137.80" stroke="#000" stroke-width="1.9" stroke-linecap="butt"/>
<line x1="544.80" y1="152.50" x2="553.36" y2="152.50" stroke="#000" stroke-width="1.9" stroke-linecap="butt"/>
<line x1="549.08" y1="143.20" x2="549.08" y2="162.30" stroke="#000" stroke-width="1.9" stroke-linecap="butt"/>
<line x1="553.33" y1="161.90" x2="561.89" y2="161.90" stroke="#000" stroke-width="1.9" stroke-linecap="butt"/>
<line x1="557.61" y1="154.00" x2="557.61" y2="170.50" stroke="#000" stroke-width="1.9" stroke-linecap="butt"/>
<line x1="561.86" y1="154.40" x2="570.42" y2="154.40" stroke="#000" stroke-width="1.9" stroke-linecap="butt"/>
<line x1="566.14" y1="145.70" x2="566.14" y2="162.30" stroke="#000" stroke-width="1.9" stroke-linecap="butt"/>
<line x1="570.39" y1="163.30" x2="578.95" y2="163.30" stroke="#000" stroke-width="1.9" stroke-linecap="butt"/>
<line x1="574.67" y1="155.60" x2="574.67" y2="170.50" stroke="#000" stroke-width="1.9" stroke-linecap="butt"/>
<line x1="578.92" y1="158.10" x2="587.48" y2="158.10" stroke="#000" stroke-width="1.9" stroke-linecap="butt"/>
<line x1="583.20" y1="150.90" x2="583.20" y2="165.40" stroke="#000" stroke-width="1.9" stroke-linecap="butt"/>
<line x1="587.45" y1="174.60" x2="596.01" y2="174.60" stroke="#000" stroke-width="1.9" stroke-linecap="butt"/>
<line x1="591.73" y1="169.80" x2="591.73" y2="181.00" stroke="#000" stroke-width="1.9" stroke-linecap="butt"/>
<line x1="595.98" y1="170.60" x2="604.54" y2="170.60" stroke="#000" stroke-width="1.9" stroke-linecap="butt"/>
<line x1="600.26" y1="165.20" x2="600.26" y2="177.20" stroke="#000" stroke-width="1.9" stroke-linecap="butt"/>
<line x1="604.51" y1="160.00" x2="613.07" y2="160.00" stroke="#000" stroke-width="1.9" stroke-linecap="butt"/>
<line x1="608.79" y1="154.30" x2="608.79" y2="165.50" stroke="#000" stroke-width="1.9" stroke-linecap="butt"/>
<line x1="613.04" y1="173.70" x2="621.60" y2="173.70" stroke="#000" stroke-width="1.9" stroke-linecap="butt"/>
<line x1="617.32" y1="169.00" x2="617.32" y2="179.10" stroke="#000" stroke-width="1.9" stroke-linecap="butt"/>
<line x1="621.57" y1="173.70" x2="630.13" y2="173.70" stroke="#000" stroke-width="1.9" stroke-linecap="butt"/>
<line x1="625.85" y1="169.00" x2="625.85" y2="178.80" stroke="#000" stroke-width="1.9" stroke-linecap="butt"/>
<line x1="630.10" y1="166.70" x2="638.66" y2="166.70" stroke="#000" stroke-width="1.9" stroke-linecap="butt"/>
<line x1="634.38" y1="162.10" x2="634.38" y2="171.00" stroke="#000" stroke-width="1.9" stroke-linecap="butt"/>
<line x1="638.63" y1="174.80" x2="647.19" y2="174.80" stroke="#000" stroke-width="1.9" stroke-linecap="butt"/>
<line x1="642.91" y1="171.40" x2="642.91" y2="178.70" stroke="#000" stroke-width="1.9" stroke-linecap="butt"/>
<line x1="647.16" y1="175.50" x2="655.72" y2="175.50" stroke="#000" stroke-width="1.9" stroke-linecap="butt"/>
<line x1="651.44" y1="172.30" x2="651.44" y2="179.70" stroke="#000" stroke-width="1.9" stroke-linecap="butt"/>
<line x1="655.69" y1="172.80" x2="664.25" y2="172.80" stroke="#000" stroke-width="1.9" stroke-linecap="butt"/>
<line x1="659.97" y1="169.30" x2="659.97" y2="176.90" stroke="#000" stroke-width="1.9" stroke-linecap="butt"/>
<line x1="664.22" y1="171.40" x2="672.78" y2="171.40" stroke="#000" stroke-width="1.9" stroke-linecap="butt"/>
<line x1="668.50" y1="167.90" x2="668.50" y2="175.10" stroke="#000" stroke-width="1.9" stroke-linecap="butt"/>
<line x1="672.75" y1="171.40" x2="681.31" y2="171.40" stroke="#000" stroke-width="1.9" stroke-linecap="butt"/>
<line x1="677.03" y1="167.90" x2="677.03" y2="174.80" stroke="#000" stroke-width="1.9" stroke-linecap="butt"/>
<line x1="419.05" y1="246.00" x2="419.05" y2="239.00" stroke="#000" stroke-width="1.1" stroke-linecap="butt"/>
<line x1="419.05" y1="10.00" x2="419.05" y2="17.00" stroke="#000" stroke-width="1.1" stroke-linecap="butt"/>
<line x1="441.90" y1="246.00" x2="441.90" y2="242.50" stroke="#000" stroke-width="1.1" stroke-linecap="butt"/>
<line x1="441.90" y1="10.00" x2="441.90" y2="13.50" stroke="#000" stroke-width="1.1" stroke-linecap="butt"/>
<line x1="464.75" y1="246.00" x2="464.75" y2="242.50" stroke="#000" stroke-width="1.1" stroke-linecap="butt"/>
<line x1="464.75" y1="10.00" x2="464.75" y2="13.50" stroke="#000" stroke-width="1.1" stroke-linecap="butt"/>
<line x1="487.60" y1="246.00" x2="487.60" y2="242.50" stroke="#000" stroke-width="1.1" stroke-linecap="butt"/>
<line x1="487.60" y1="10.00" x2="487.60" y2="13.50" stroke="#000" stroke-width="1.1" stroke-linecap="butt"/>
<line x1="510.45" y1="246.00" x2="510.45" y2="242.50" stroke="#000" stroke-width="1.1" stroke-linecap="butt"/>
<line x1="510.45" y1="10.00" x2="510.45" y2="13.50" stroke="#000" stroke-width="1.1" stroke-linecap="butt"/>
<line x1="533.30" y1="246.00" x2="533.30" y2="239.00" stroke="#000" stroke-width="1.1" stroke-linecap="butt"/>
<line x1="533.30" y1="10.00" x2="533.30" y2="17.00" stroke="#000" stroke-width="1.1" stroke-linecap="butt"/>
<line x1="556.15" y1="246.00" x2="556.15" y2="242.50" stroke="#000" stroke-width="1.1" stroke-linecap="butt"/>
<line x1="556.15" y1="10.00" x2="556.15" y2="13.50" stroke="#000" stroke-width="1.1" stroke-linecap="butt"/>
<line x1="579.00" y1="246.00" x2="579.00" y2="242.50" stroke="#000" stroke-width="1.1" stroke-linecap="butt"/>
<line x1="579.00" y1="10.00" x2="579.00" y2="13.50" stroke="#000" stroke-width="1.1" stroke-linecap="butt"/>
<line x1="601.85" y1="246.00" x2="601.85" y2="242.50" stroke="#000" stroke-width="1.1" stroke-linecap="butt"/>
<line x1="601.85" y1="10.00" x2="601.85" y2="13.50" stroke="#000" stroke-width="1.1" stroke-linecap="butt"/>
<line x1="624.70" y1="246.00" x2="624.70" y2="242.50" stroke="#000" stroke-width="1.1" stroke-linecap="butt"/>
<line x1="624.70" y1="10.00" x2="624.70" y2="13.50" stroke="#000" stroke-width="1.1" stroke-linecap="butt"/>
<line x1="647.55" y1="246.00" x2="647.55" y2="239.00" stroke="#000" stroke-width="1.1" stroke-linecap="butt"/>
<line x1="647.55" y1="10.00" x2="647.55" y2="17.00" stroke="#000" stroke-width="1.1" stroke-linecap="butt"/>
<line x1="670.40" y1="246.00" x2="670.40" y2="242.50" stroke="#000" stroke-width="1.1" stroke-linecap="butt"/>
<line x1="670.40" y1="10.00" x2="670.40" y2="13.50" stroke="#000" stroke-width="1.1" stroke-linecap="butt"/>
<line x1="407.10" y1="235.09" x2="410.60" y2="235.09" stroke="#000" stroke-width="1.1" stroke-linecap="butt"/>
<line x1="682.50" y1="235.09" x2="679.00" y2="235.09" stroke="#000" stroke-width="1.1" stroke-linecap="butt"/>
<line x1="407.10" y1="224.38" x2="410.60" y2="224.38" stroke="#000" stroke-width="1.1" stroke-linecap="butt"/>
<line x1="682.50" y1="224.38" x2="679.00" y2="224.38" stroke="#000" stroke-width="1.1" stroke-linecap="butt"/>
<line x1="407.10" y1="213.66" x2="414.60" y2="213.66" stroke="#000" stroke-width="1.1" stroke-linecap="butt"/>
<line x1="682.50" y1="213.66" x2="675.00" y2="213.66" stroke="#000" stroke-width="1.1" stroke-linecap="butt"/>
<line x1="407.10" y1="202.94" x2="410.60" y2="202.94" stroke="#000" stroke-width="1.1" stroke-linecap="butt"/>
<line x1="682.50" y1="202.94" x2="679.00" y2="202.94" stroke="#000" stroke-width="1.1" stroke-linecap="butt"/>
<line x1="407.10" y1="192.23" x2="410.60" y2="192.23" stroke="#000" stroke-width="1.1" stroke-linecap="butt"/>
<line x1="682.50" y1="192.23" x2="679.00" y2="192.23" stroke="#000" stroke-width="1.1" stroke-linecap="butt"/>
<line x1="407.10" y1="181.52" x2="410.60" y2="181.52" stroke="#000" stroke-width="1.1" stroke-linecap="butt"/>
<line x1="682.50" y1="181.52" x2="679.00" y2="181.52" stroke="#000" stroke-width="1.1" stroke-linecap="butt"/>
<line x1="407.10" y1="170.80" x2="414.60" y2="170.80" stroke="#000" stroke-width="1.1" stroke-linecap="butt"/>
<line x1="682.50" y1="170.80" x2="675.00" y2="170.80" stroke="#000" stroke-width="1.1" stroke-linecap="butt"/>
<line x1="407.10" y1="160.09" x2="410.60" y2="160.09" stroke="#000" stroke-width="1.1" stroke-linecap="butt"/>
<line x1="682.50" y1="160.09" x2="679.00" y2="160.09" stroke="#000" stroke-width="1.1" stroke-linecap="butt"/>
<line x1="407.10" y1="149.37" x2="410.60" y2="149.37" stroke="#000" stroke-width="1.1" stroke-linecap="butt"/>
<line x1="682.50" y1="149.37" x2="679.00" y2="149.37" stroke="#000" stroke-width="1.1" stroke-linecap="butt"/>
<line x1="407.10" y1="138.66" x2="410.60" y2="138.66" stroke="#000" stroke-width="1.1" stroke-linecap="butt"/>
<line x1="682.50" y1="138.66" x2="679.00" y2="138.66" stroke="#000" stroke-width="1.1" stroke-linecap="butt"/>
<line x1="407.10" y1="127.94" x2="414.60" y2="127.94" stroke="#000" stroke-width="1.1" stroke-linecap="butt"/>
<line x1="682.50" y1="127.94" x2="675.00" y2="127.94" stroke="#000" stroke-width="1.1" stroke-linecap="butt"/>
<line x1="407.10" y1="117.23" x2="410.60" y2="117.23" stroke="#000" stroke-width="1.1" stroke-linecap="butt"/>
<line x1="682.50" y1="117.23" x2="679.00" y2="117.23" stroke="#000" stroke-width="1.1" stroke-linecap="butt"/>
<line x1="407.10" y1="106.51" x2="410.60" y2="106.51" stroke="#000" stroke-width="1.1" stroke-linecap="butt"/>
<line x1="682.50" y1="106.51" x2="679.00" y2="106.51" stroke="#000" stroke-width="1.1" stroke-linecap="butt"/>
<line x1="407.10" y1="95.80" x2="410.60" y2="95.80" stroke="#000" stroke-width="1.1" stroke-linecap="butt"/>
<line x1="682.50" y1="95.80" x2="679.00" y2="95.80" stroke="#000" stroke-width="1.1" stroke-linecap="butt"/>
<line x1="407.10" y1="85.08" x2="414.60" y2="85.08" stroke="#000" stroke-width="1.1" stroke-linecap="butt"/>
<line x1="682.50" y1="85.08" x2="675.00" y2="85.08" stroke="#000" stroke-width="1.1" stroke-linecap="butt"/>
<line x1="407.10" y1="74.37" x2="410.60" y2="74.37" stroke="#000" stroke-width="1.1" stroke-linecap="butt"/>
<line x1="682.50" y1="74.37" x2="679.00" y2="74.37" stroke="#000" stroke-width="1.1" stroke-linecap="butt"/>
<line x1="407.10" y1="63.65" x2="410.60" y2="63.65" stroke="#000" stroke-width="1.1" stroke-linecap="butt"/>
<line x1="682.50" y1="63.65" x2="679.00" y2="63.65" stroke="#000" stroke-width="1.1" stroke-linecap="butt"/>
<line x1="407.10" y1="52.94" x2="410.60" y2="52.94" stroke="#000" stroke-width="1.1" stroke-linecap="butt"/>
<line x1="682.50" y1="52.94" x2="679.00" y2="52.94" stroke="#000" stroke-width="1.1" stroke-linecap="butt"/>
<line x1="407.10" y1="42.22" x2="414.60" y2="42.22" stroke="#000" stroke-width="1.1" stroke-linecap="butt"/>
<line x1="682.50" y1="42.22" x2="675.00" y2="42.22" stroke="#000" stroke-width="1.1" stroke-linecap="butt"/>
<line x1="407.10" y1="31.51" x2="410.60" y2="31.51" stroke="#000" stroke-width="1.1" stroke-linecap="butt"/>
<line x1="682.50" y1="31.51" x2="679.00" y2="31.51" stroke="#000" stroke-width="1.1" stroke-linecap="butt"/>
<line x1="407.10" y1="20.79" x2="410.60" y2="20.79" stroke="#000" stroke-width="1.1" stroke-linecap="butt"/>
<line x1="682.50" y1="20.79" x2="679.00" y2="20.79" stroke="#000" stroke-width="1.1" stroke-linecap="butt"/>
<rect x="407.1" y="10.0" width="275.40" height="236.0" fill="none" stroke="#000" stroke-width="1.8"/>
<text transform="translate(532.60,32.00)" font-family='"Liberation Sans", sans-serif' font-size="10.6" text-anchor="start" font-weight="bold" font-style="normal" fill="#000" textLength="79.00" lengthAdjust="spacingAndGlyphs">LHCb 8 TeV</text>
<text transform="translate(532.60,43.40)" font-family='"Liberation Sans", sans-serif' font-size="10.6" text-anchor="start" font-weight="bold" font-style="normal" fill="#000" textLength="94.00" lengthAdjust="spacingAndGlyphs">Signal Region</text>
<line x1="533.90" y1="61.70" x2="554.90" y2="61.70" stroke="#ff1010" stroke-width="1.5" stroke-linecap="butt"/>
<text transform="translate(559.40,66.00)" font-family='"Liberation Sans", sans-serif' font-size="10.6" text-anchor="start" font-weight="bold" font-style="italic" fill="#000" textLength="8.60" lengthAdjust="spacingAndGlyphs">Z</text>
<line x1="533.90" y1="77.60" x2="554.90" y2="77.60" stroke="#000" stroke-width="1.6" stroke-linecap="butt"/>
<line x1="544.90" y1="73.40" x2="544.90" y2="81.50" stroke="#000" stroke-width="1.6" stroke-linecap="butt"/>
<text transform="translate(559.60,81.00)" font-family='"Liberation Sans", sans-serif' font-size="10.6" text-anchor="start" font-weight="bold" font-style="normal" fill="#000" textLength="29.30" lengthAdjust="spacingAndGlyphs">Data</text>
<rect x="534.4" y="87.2" width="20.2" height="9.6" fill="url(#hatch)" stroke="#555" stroke-width="0.9"/>
<text transform="translate(559.60,95.50)" font-family='"Liberation Sans", sans-serif' font-size="10.6" text-anchor="start" font-weight="bold" font-style="normal" fill="#000" textLength="113.30" lengthAdjust="spacingAndGlyphs">Total uncertainty</text>
<text transform="translate(403.20,47.62) scale(1.1500,1.0000)" font-family='"Liberation Serif", serif' font-size="16" text-anchor="end" font-weight="normal" font-style="normal" fill="#000" stroke="#000" stroke-width="0.3">600</text>
<text transform="translate(403.20,90.48) scale(1.1500,1.0000)" font-family='"Liberation Serif", serif' font-size="16" text-anchor="end" font-weight="normal" font-style="normal" fill="#000" stroke="#000" stroke-width="0.3">400</text>
<text transform="translate(403.20,133.34) scale(1.1500,1.0000)" font-family='"Liberation Serif", serif' font-size="16" text-anchor="end" font-weight="normal" font-style="normal" fill="#000" stroke="#000" stroke-width="0.3">200</text>
<text transform="translate(403.20,176.20) scale(1.1500,1.0000)" font-family='"Liberation Serif", serif' font-size="16" text-anchor="end" font-weight="normal" font-style="normal" fill="#000" stroke="#000" stroke-width="0.3">0</text>
<text transform="translate(403.20,219.06) scale(1.1500,1.0000)" font-family='"Liberation Serif", serif' font-size="16" text-anchor="end" font-weight="normal" font-style="normal" fill="#000" stroke="#000" stroke-width="0.3">−200</text>
<text transform="translate(418.75,263.80) scale(1.2100,1.0000)" font-family='"Liberation Serif", serif' font-size="16" text-anchor="middle" font-weight="normal" font-style="normal" fill="#000" stroke="#000" stroke-width="0.3">50</text>
<text transform="translate(533.00,263.80) scale(1.2100,1.0000)" font-family='"Liberation Serif", serif' font-size="16" text-anchor="middle" font-weight="normal" font-style="normal" fill="#000" stroke="#000" stroke-width="0.3">100</text>
<text transform="translate(647.25,263.80) scale(1.2100,1.0000)" font-family='"Liberation Serif", serif' font-size="16" text-anchor="middle" font-weight="normal" font-style="normal" fill="#000" stroke="#000" stroke-width="0.3">150</text>
<text transform="translate(520.00,285.50)" font-family='"Liberation Serif", serif' font-size="18.4" text-anchor="start" font-weight="normal" font-style="normal" fill="#000" textLength="161.00" lengthAdjust="spacingAndGlyphs" stroke="#000" stroke-width="0.5">Dijet Mass [GeV]</text>
<text transform="translate(360.00,156.30) rotate(-90) scale(1.0000,1.3000)" font-family='"Liberation Serif", serif' font-size="15.5" text-anchor="start" font-weight="normal" font-style="normal" fill="#000" textLength="155.80" lengthAdjust="spacingAndGlyphs" stroke="#000" stroke-width="0.2">Candidates / (3.75 GeV)</text>
</svg>
</body></html>
